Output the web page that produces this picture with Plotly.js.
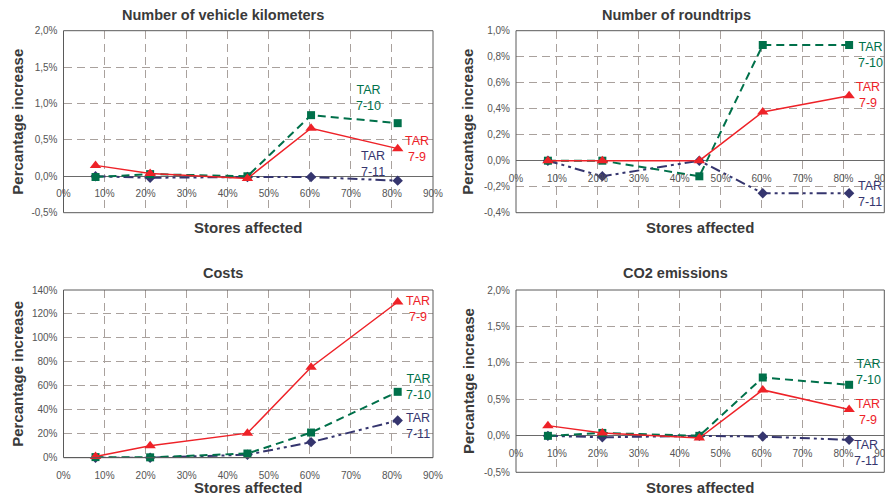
<!DOCTYPE html>
<html>
<head>
<meta charset="utf-8">
<script src="https://cdn.plot.ly/plotly-3.0.1.min.js"></script>
<style>
  html, body { margin: 0; padding: 0; background: #ffffff; }
  #chart { width: 885px; height: 497px; }
</style>
</head>
<body>
<div id="chart"></div>
<script>
// Share of stores affected (x, in %)
const storesAffected = [7.8, 21.1, 44.8, 60.3, 81.4];
const xTickVals = [0, 10, 20, 30, 40, 50, 60, 70, 80, 90];
const xTickText = ['0%', '10%', '20%', '30%', '40%', '50%', '60%', '70%', '80%', '90%'];

// Number of vehicle kilometers (% increase)
const kmTar79  = [0.15, 0.04, -0.03, 0.66, 0.38];
const kmTar710 = [-0.01, 0.03, 0.00, 0.84, 0.73];
const kmTar711 = [0.00, -0.02, -0.01, -0.01, -0.06];

// Number of roundtrips (% increase)
const rtTar79  = [0.00, 0.00, 0.00, 0.375, 0.50];
const rtTar710 = [0.00, 0.00, -0.12, 0.89, 0.89];
const rtTar711 = [0.00, -0.12, 0.00, -0.25, -0.25];

// Costs (% increase)
const costTar79  = [1, 10, 20.5, 75.5, 130];
const costTar710 = [0.5, 0.3, 3.5, 21, 55];
const costTar711 = [0, 0, 2.5, 13, 31];

// CO2 emissions (% increase)
const co2Tar79  = [0.14, 0.04, -0.03, 0.63, 0.36];
const co2Tar710 = [0.00, 0.04, 0.00, 0.80, 0.70];
const co2Tar711 = [0.00, -0.02, 0.00, -0.01, -0.055];

// y tick labels
const kmTickVals = [-0.5, 0, 0.5, 1.0, 1.5, 2.0];
const kmTickText = ['-0,5%', '0,0%', '0,5%', '1,0%', '1,5%', '2,0%'];
const rtTickVals = [-0.4, -0.2, 0, 0.2, 0.4, 0.6, 0.8, 1.0];
const rtTickText = ['-0,4%', '-0,2%', '0,0%', '0,2%', '0,4%', '0,6%', '0,8%', '1,0%'];
const costTickVals = [0, 20, 40, 60, 80, 100, 120, 140];
const costTickText = ['0%', '20%', '40%', '60%', '80%', '100%', '120%', '140%'];

const panelTitles = ['Number of vehicle kilometers', 'Number of roundtrips', 'Costs', 'CO2 emissions'];
const seriesNames = ['TAR 7-9', 'TAR 7-10', 'TAR 7-11'];

// ---- styling ----
const W = 885, H = 497;
const px = v => v / W;
const py = v => 1 - v / H;
const FONT = 'Liberation Sans, Arial, sans-serif';
const RED = '#ee2228', GREEN = '#00704a', NAVY = '#35356e';
const GRID = '#a9a19d', FRAME = '#5a5a5a', TEXT = '#3a3a3a', TICK = '#555555';

// plot boxes in pixels: left, right, top, bottom
const boxes = [
  [63.5, 433, 30.7, 212.7],
  [516, 884.3, 30.7, 212.7],
  [63.5, 433, 290, 457.7],
  [516, 884.3, 290, 472.3]
];
const yRanges = [[-0.5, 2.0], [-0.4, 1.0], [0, 140], [-0.5, 2.0]];
const yTicks = [[kmTickVals, kmTickText], [rtTickVals, rtTickText], [costTickVals, costTickText], [kmTickVals, kmTickText]];
const data = [
  [kmTar79, kmTar710, kmTar711],
  [rtTar79, rtTar710, rtTar711],
  [costTar79, costTar710, costTar711],
  [co2Tar79, co2Tar710, co2Tar711]
];

const traces = [];
const layout = {
  width: W, height: H,
  margin: {l: 0, r: 0, t: 0, b: 0},
  paper_bgcolor: '#ffffff', plot_bgcolor: '#ffffff',
  showlegend: false,
  font: {family: FONT, color: TEXT},
  shapes: [], annotations: []
};

const styles = [
  {color: RED,   symbol: 'triangle-up', size: 10, dash: 'solid', width: 1.5},
  {color: GREEN, symbol: 'square',      size: 8,  dash: '8px,5px', width: 2},
  {color: NAVY,  symbol: 'diamond',     size: 8,  dash: '10px,4px,3px,4px,3px,4px', width: 2}
];

const xTickFont = {family: FONT, size: 10, color: TICK};

boxes.forEach((b, i) => {
  const n = i + 1;
  const xName = n === 1 ? 'x' : 'x' + n;
  const yName = n === 1 ? 'y' : 'y' + n;
  const xKey = n === 1 ? 'xaxis' : 'xaxis' + n;
  const yKey = n === 1 ? 'yaxis' : 'yaxis' + n;
  const xDom = [px(b[0]), px(b[1])];
  const yDom = [py(b[3]), py(b[2])];
  const yr = yRanges[i];
  const bottomAxis = yr[0] === 0;

  layout[xKey] = {
    domain: xDom, anchor: yName, range: [0, 90],
    tickvals: xTickVals, ticktext: xTickText,
    showticklabels: bottomAxis, ticklabeloverflow: 'allow',
    ticks: 'outside', ticklen: 8, tickcolor: 'rgba(0,0,0,0)',
    tickfont: xTickFont,
    showgrid: true, gridcolor: GRID, griddash: '8px,5px', gridwidth: 1,
    zeroline: false, showline: false, fixedrange: true
  };
  layout[yKey] = {
    domain: yDom, anchor: xName, range: yr,
    tickvals: yTicks[i][0], ticktext: yTicks[i][1],
    ticks: 'outside', ticklen: 3, tickcolor: 'rgba(0,0,0,0)',
    tickfont: {family: FONT, size: 10, color: TICK},
    showgrid: true, gridcolor: GRID, griddash: '8px,5px', gridwidth: 1,
    zeroline: true, zerolinecolor: '#6a6a6a', zerolinewidth: 1,
    showline: false, fixedrange: true
  };

  // tick labels that sit on the zero line
  if (!bottomAxis) {
    const on = n + 4;
    const zeroFrac = yDom[0] + (0 - yr[0]) / (yr[1] - yr[0]) * (yDom[1] - yDom[0]);
    layout['xaxis' + on] = {
      overlaying: xName, anchor: 'free', position: zeroFrac, domain: xDom,
      range: [0, 90], tickvals: xTickVals, ticktext: xTickText,
      ticklabeloverflow: 'allow',
      ticks: 'outside', ticklen: 8, tickcolor: 'rgba(0,0,0,0)',
      tickfont: xTickFont,
      showgrid: false, zeroline: false, showline: false, fixedrange: true
    };
    // empty trace so the zero-line axis gets a subplot
    traces.push({type: 'scatter', mode: 'markers', x: [], y: [], xaxis: 'x' + on, yaxis: yName, hoverinfo: 'skip'});
  }

  // box around the plot area
  layout.shapes.push({
    type: 'rect', xref: xName + ' domain', yref: yName + ' domain',
    x0: 0, x1: 1, y0: 0, y1: 1,
    line: {color: FRAME, width: 1}, layer: 'above'
  });

  // series: 7-11 first, 7-9 on top
  [2, 1, 0].forEach(s => {
    const st = styles[s];
    traces.push({
      type: 'scatter', mode: 'lines+markers', name: seriesNames[s],
      x: storesAffected, y: data[i][s], xaxis: xName, yaxis: yName,
      line: {color: st.color, width: st.width, dash: st.dash},
      marker: {symbol: st.symbol, size: st.size, color: st.color},
      cliponaxis: false, hoverinfo: 'skip'
    });
  });
});

// chart titles
const titlePos = [[223, 15], [676, 15], [223, 273], [675, 273]];
titlePos.forEach((p, i) => {
  layout.annotations.push({
    xref: 'paper', yref: 'paper', x: px(p[0]), y: py(p[1]),
    xanchor: 'center', yanchor: 'middle', showarrow: false,
    text: panelTitles[i], font: {family: FONT, size: 14.5, color: TEXT, weight: 'bold'}
  });
});

// axis titles
const xTitlePos = [[248, 227.5], [700, 227.5], [248, 487.5], [700, 487]];
xTitlePos.forEach(p => {
  layout.annotations.push({
    xref: 'paper', yref: 'paper', x: px(p[0]), y: py(p[1]),
    xanchor: 'center', yanchor: 'middle', showarrow: false,
    text: 'Stores affected', font: {family: FONT, size: 15, color: TEXT, weight: 'bold'}
  });
});
const yTitlePos = [[18, 121.7], [468, 121.7], [18, 373.8], [468, 381]];
yTitlePos.forEach(p => {
  layout.annotations.push({
    xref: 'paper', yref: 'paper', x: px(p[0]), y: py(p[1]),
    xanchor: 'center', yanchor: 'middle', showarrow: false, textangle: -90,
    text: 'Percantage increase', font: {family: FONT, size: 15, color: TEXT, weight: 'bold'}
  });
});

// series labels next to the lines
const seriesLabels = [
  ['TAR<br>7-10', GREEN, 368, 98], ['TAR<br>7-9', RED, 417, 149], ['TAR<br>7-11', NAVY, 373, 164],
  ['TAR<br>7-10', GREEN, 870, 55], ['TAR<br>7-9', RED, 868, 95], ['TAR<br>7-11', NAVY, 870, 194],
  ['TAR<br>7-9', RED, 418, 309], ['TAR<br>7-10', GREEN, 418, 387], ['TAR<br>7-11', NAVY, 418, 426],
  ['TAR<br>7-10', GREEN, 868, 372], ['TAR<br>7-9', RED, 868, 412], ['TAR<br>7-11', NAVY, 866, 453]
];
seriesLabels.forEach(l => {
  layout.annotations.push({
    xref: 'paper', yref: 'paper', x: px(l[2]), y: py(l[3]),
    xanchor: 'center', yanchor: 'middle', showarrow: false, align: 'center',
    text: l[0], font: {family: FONT, size: 12.5, color: l[1]}
  });
});

Plotly.newPlot('chart', traces, layout, {displayModeBar: false, staticPlot: true});
</script>
</body>
</html>
